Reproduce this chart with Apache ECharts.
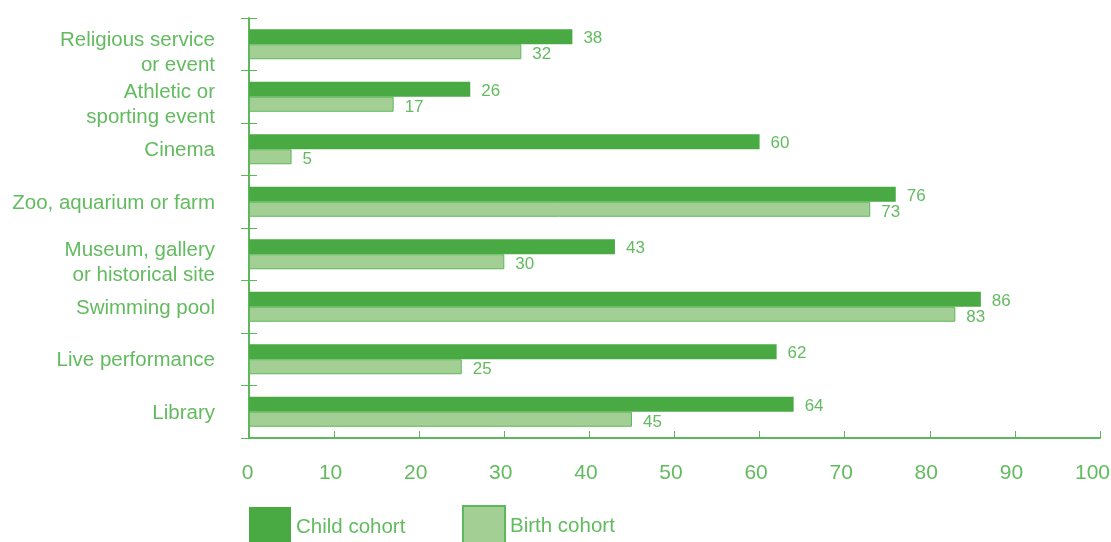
<!DOCTYPE html>
<html><head><meta charset="utf-8">
<script src="https://cdn.jsdelivr.net/npm/echarts@6/dist/echarts.min.js"></script>
<style>html,body{margin:0;padding:0;background:#fff}#c{width:1111px;height:542px}</style>
</head><body><div id="c"></div>
<script>
var categories = ["Religious service\nor event","Athletic or\nsporting event","Cinema","Zoo, aquarium or farm","Museum, gallery\nor historical site","Swimming pool","Live performance","Library"];
var childCohort = [38,26,60,76,43,86,62,64];
var birthCohort = [32,17,5,73,30,83,25,45];
var xTicks = [0,10,20,30,40,50,60,70,80,90,100];

var DARK = '#49a942', LIGHT = '#a3cf94', LINE = '#5cb85a', TEXT = '#62bb5e';
var FONT = '"Liberation Sans", Arial, sans-serif';

var chart = echarts.init(document.getElementById('c'), null, {renderer:'canvas'});
chart.setOption({
  animation:false,
  textStyle:{fontFamily:FONT},
  grid:{left:249, right:11, top:18, bottom:104, containLabel:false, outerBoundsMode:'none'},
  legend:[
    {left:249, top:507, padding:0, itemWidth:42, itemHeight:40, icon:'rect', data:['Child cohort'],
     textStyle:{fontFamily:FONT, fontSize:20.5, color:TEXT, padding:[8,0,0,0]}},
    {left:462, top:505, padding:0, itemWidth:42, itemHeight:40, icon:'rect', data:['Birth cohort'],
     textStyle:{fontFamily:FONT, fontSize:20.5, color:TEXT}}
  ],
  xAxis:{type:'value', min:0, max:100, interval:10,
    axisLine:{show:true, lineStyle:{color:LINE, width:2}},
    axisTick:{show:true, inside:true, length:7, lineStyle:{color:LINE, width:1}},
    splitLine:{show:false},
    axisLabel:{color:TEXT, fontSize:21, fontFamily:FONT, margin:25,
      formatter:function(v){
        if (xTicks.indexOf(v) < 0) return '';
        if (v === 100) return '{e|' + v + '}';
        if (v === 0) return '{z|' + v + '}';
        return '{n|' + v + '}';
      },
      rich:{
        e:{color:TEXT, fontSize:21, fontFamily:FONT, padding:[0,15,0,0]},
        n:{color:TEXT, fontSize:21, fontFamily:FONT, padding:[0,7,0,0]},
        z:{color:TEXT, fontSize:21, fontFamily:FONT, padding:[0,3,0,0]}
      }}
  },
  yAxis:[
    {type:'category', inverse:true, data:categories,
     axisLine:{show:true, lineStyle:{color:LINE, width:2}},
     axisTick:{show:true, inside:false, length:8, lineStyle:{color:LINE, width:1}},
     axisLabel:{color:TEXT, fontSize:20.5, fontFamily:FONT, margin:34, align:'right',
       interval:0, showMinLabel:true, showMaxLabel:true, hideOverlap:false,
       formatter:function(v){
         var parts = v.split('\n');
         if (parts.length > 1) return '{sp| }\n{t|' + parts[0] + '}\n{t|' + parts[1] + '}';
         return '{s|' + v + '}';
       },
       rich:{
         sp:{fontSize:10, lineHeight:17},
         t:{color:TEXT, fontSize:20.5, fontFamily:FONT, lineHeight:25, align:'right'},
         s:{color:TEXT, fontSize:20.5, fontFamily:FONT, lineHeight:25, align:'right', padding:[3,0,0,0]}
       }}},
    {type:'category', inverse:true, data:categories, position:'left',
     axisLine:{show:false},
     axisTick:{show:true, inside:true, length:8, lineStyle:{color:LINE, width:1}},
     axisLabel:{show:false}}
  ],
  series:[
    {name:'Child cohort', type:'bar', data:childCohort, barWidth:15, barGap:'0%',
     itemStyle:{color:DARK},
     label:{show:true, position:'right', distance:11, offset:[0,2], color:TEXT, fontSize:17, fontFamily:FONT}},
    {name:'Birth cohort', type:'bar', data:birthCohort, barWidth:15, barGap:'0%',
     itemStyle:{color:LIGHT, borderColor:LINE, borderWidth:1},
     label:{show:true, position:'right', distance:11, offset:[0,3], color:TEXT, fontSize:17, fontFamily:FONT}}
  ]
});
</script></body></html>
